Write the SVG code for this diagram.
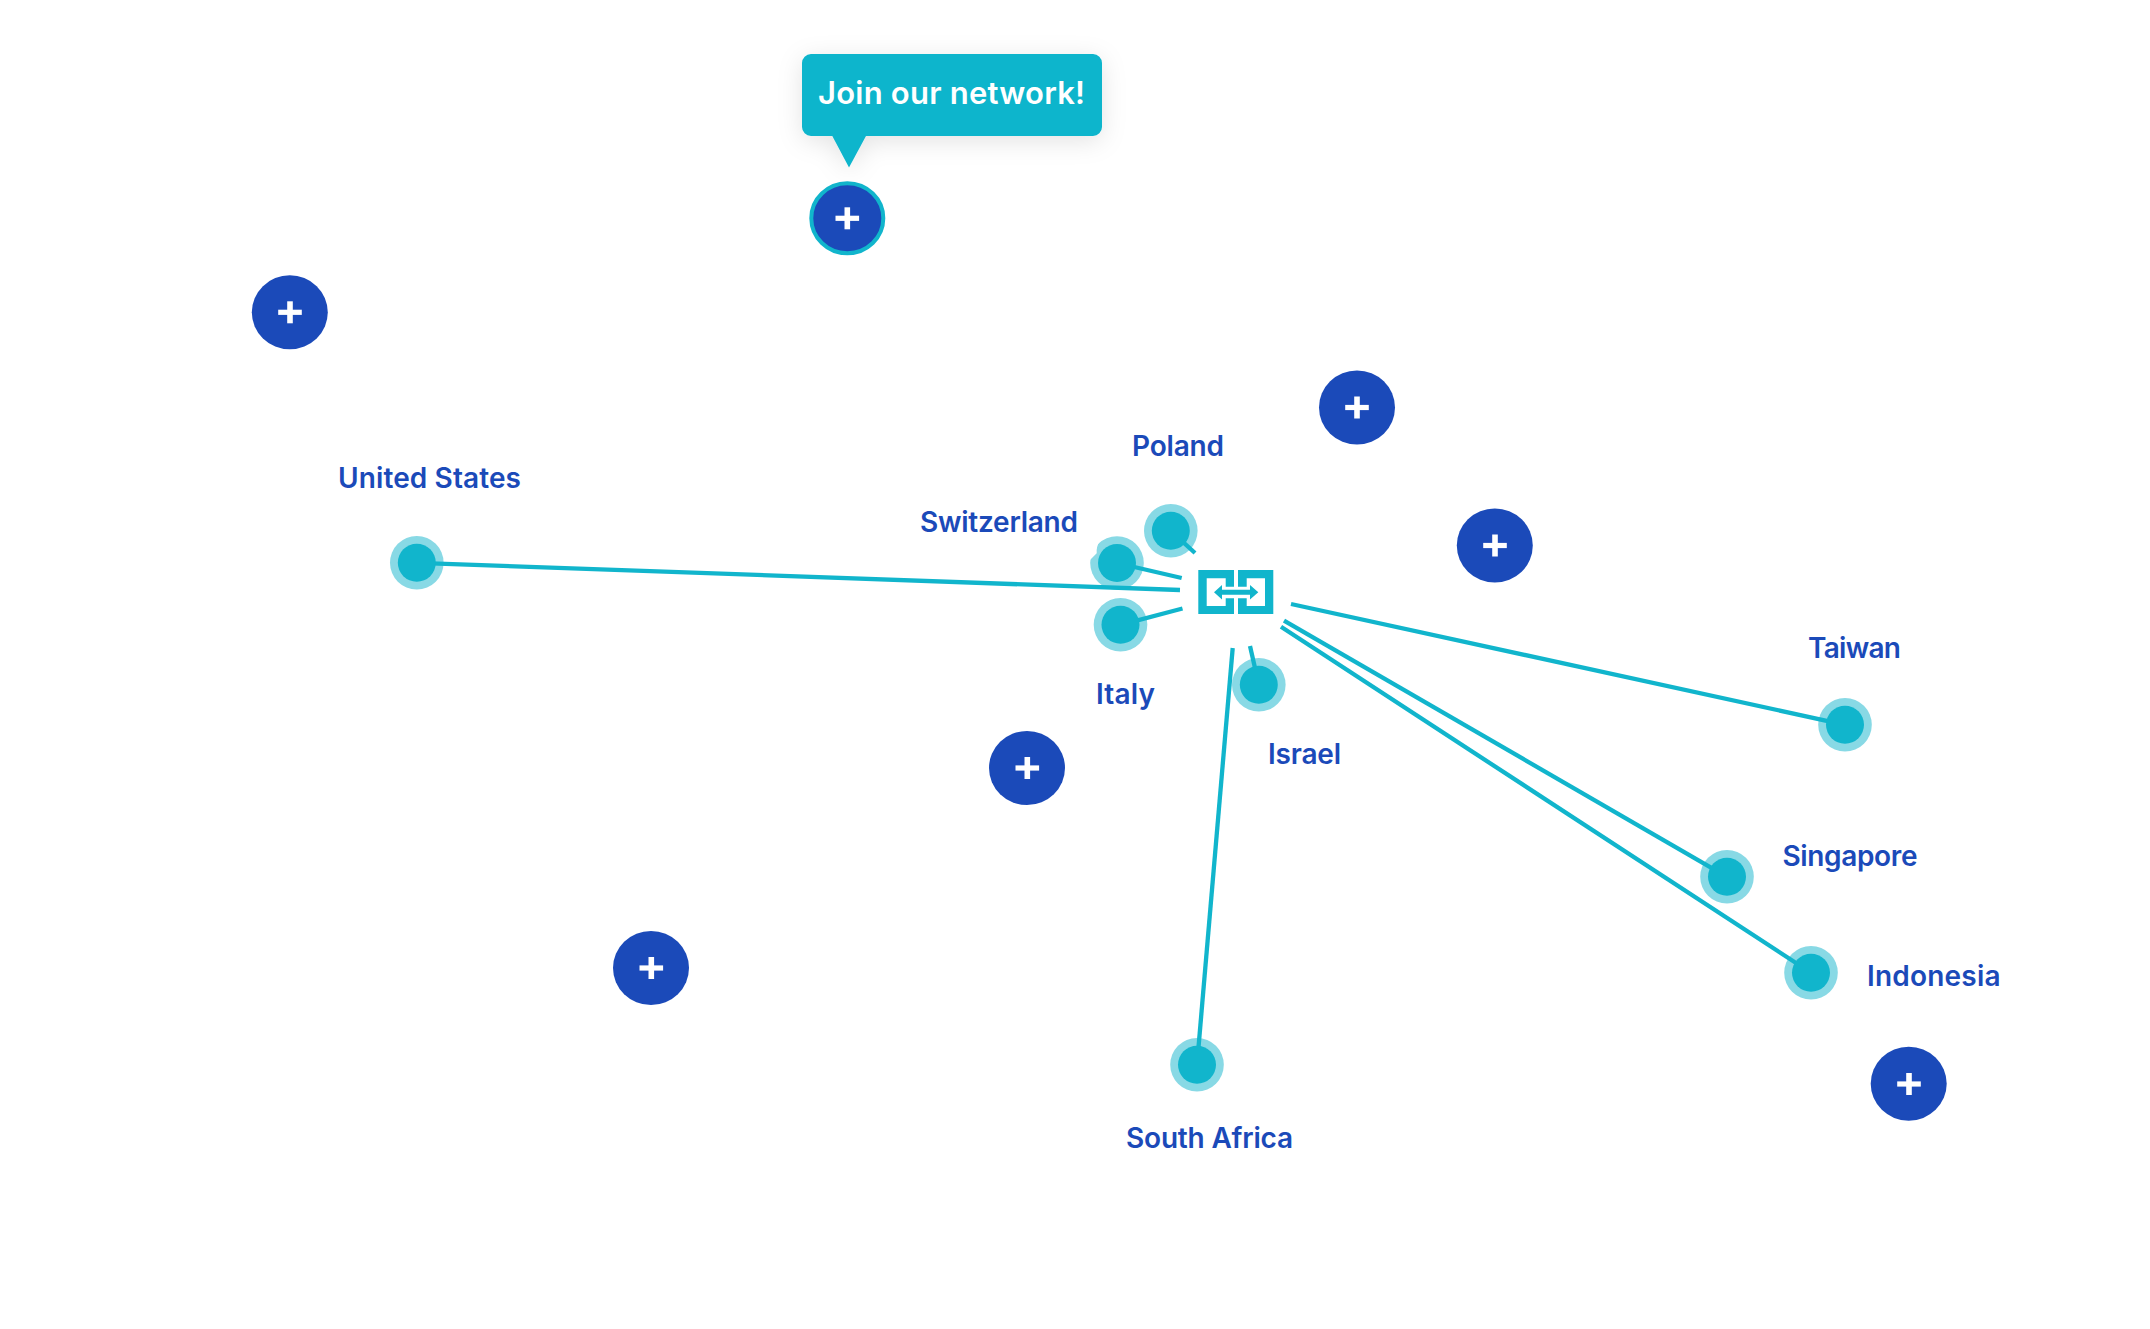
<svg xmlns="http://www.w3.org/2000/svg" width="2150" height="1329" viewBox="0 0 2150 1329">
<defs>
<filter id="sh" x="-20%" y="-60%" width="140%" height="240%"><feDropShadow dx="0" dy="5" stdDeviation="12" flood-color="#000" flood-opacity="0.11"/></filter>
<g id="plus"><rect x="-11.8" y="-2.6" width="23.6" height="5.2" fill="#fff"/><rect x="-2.8" y="-11" width="5.6" height="22" fill="#fff"/></g>
</defs>
<style>
text{font-family:"Inter","Liberation Sans",sans-serif}
.lbl{font-size:28px;font-weight:600;fill:#1b4ab9}
.halo{fill:#88d9e5}
.dot{fill:#11b5cc}
.btn{fill:#1b4ab9}
.ln{stroke:#11b5cc;stroke-width:4.300;fill:none}
</style>
<rect width="2150" height="1329" fill="#fff"/>
<g id="halos">
<circle class="halo" cx="416.800" cy="562.800" r="26.800"/>
<circle class="halo" cx="1170.800" cy="530.800" r="26.800"/>
<circle class="halo" cx="1117" cy="563" r="26.800"/>
<circle class="halo" cx="1120.500" cy="624.800" r="26.800"/>
<circle class="halo" cx="1258.800" cy="684.800" r="26.800"/>
<circle class="halo" cx="1845" cy="724.800" r="26.800"/>
<circle class="halo" cx="1727" cy="876.800" r="26.800"/>
<circle class="halo" cx="1811" cy="972.800" r="26.800"/>
<circle class="halo" cx="1197" cy="1064.800" r="26.800"/>
<path fill="#fff" d="M1100 540.500Q1096 547 1096.700 553.300L1089.500 560.500L1084 550L1093 538Z"/>
</g>
<g id="connectors">
<path class="ln" d="M416.800 562.800L1180 590"/>
<path class="ln" d="M1170.800 530.800L1195 553"/>
<path class="ln" d="M1117 563L1181.700 578"/>
<path class="ln" d="M1120.500 624.800L1182.500 608.500"/>
<path class="ln" d="M1250 646L1258.800 684.800"/>
<path class="ln" d="M1232.700 648L1197 1064.800"/>
<path class="ln" d="M1291 604L1845 724.800"/>
<path class="ln" d="M1284 620.700L1727 876.800"/>
<path class="ln" d="M1281 626.700L1811 972.800"/>
</g>
<g id="node-us"><circle class="dot" cx="416.800" cy="562.800" r="19"/><text class="lbl" x="338" y="488" textLength="183">United States</text></g>
<g id="node-poland"><circle class="dot" cx="1170.800" cy="530.800" r="19"/><text class="lbl" x="1132" y="456" textLength="92">Poland</text></g>
<g id="node-switzerland"><circle class="dot" cx="1117" cy="563" r="19"/><text class="lbl" x="920" y="532" textLength="158">Switzerland</text></g>
<g id="node-italy"><circle class="dot" cx="1120.500" cy="624.800" r="19"/><text class="lbl" x="1096" y="704" textLength="59">Italy</text></g>
<g id="node-israel"><circle class="dot" cx="1258.800" cy="684.800" r="19"/><text class="lbl" x="1268" y="764" textLength="73">Israel</text></g>
<g id="node-taiwan"><circle class="dot" cx="1845" cy="724.800" r="19"/><text class="lbl" x="1808" y="658" textLength="93">Taiwan</text></g>
<g id="node-singapore"><circle class="dot" cx="1727" cy="876.800" r="19"/><text class="lbl" x="1782.500" y="866" textLength="135">Singapore</text></g>
<g id="node-indonesia"><circle class="dot" cx="1811" cy="972.800" r="19"/><text class="lbl" x="1867" y="986" textLength="133.500">Indonesia</text></g>
<g id="node-southafrica"><circle class="dot" cx="1197" cy="1064.800" r="19"/><text class="lbl" x="1126" y="1148" textLength="167">South Africa</text></g>
<g id="hub"><path fill="#11b5cc" d="M1198.300 570H1234V586.700H1225.700V578.300H1206.700V606H1225.700V598.300H1234V614H1198.300ZM1238 570H1273.300V614H1238V598.300H1246.700V606H1265V578.300H1246.700V586.700H1238Z"/><path fill="#11b5cc" d="M1214 592.200L1222 585V589.700H1250V585L1258.300 592.200L1250 599.400V594.700H1222V599.400Z"/></g>
<g id="btn-1"><ellipse class="btn" cx="289.800" cy="312.300" rx="38" ry="37"/><use href="#plus" x="290" y="312.300"/></g>
<g id="btn-2"><ellipse class="btn" cx="1357" cy="407.500" rx="38" ry="37"/><use href="#plus" x="1357" y="407.500"/></g>
<g id="btn-3"><ellipse class="btn" cx="1494.800" cy="545.500" rx="38" ry="37"/><use href="#plus" x="1495" y="545.500"/></g>
<g id="btn-4"><ellipse class="btn" cx="1027" cy="768" rx="38" ry="37"/><use href="#plus" x="1027.300" y="768"/></g>
<g id="btn-5"><ellipse class="btn" cx="651" cy="968" rx="38" ry="37"/><use href="#plus" x="651.300" y="968"/></g>
<g id="btn-6"><ellipse class="btn" cx="1908.700" cy="1083.700" rx="38" ry="37"/><use href="#plus" x="1909" y="1084"/></g>
<g id="btn-join"><ellipse class="btn" cx="847.300" cy="218.300" rx="36" ry="35" stroke="#11b5cc" stroke-width="4"/><use href="#plus" x="847.300" y="218.300"/></g>
<g id="tooltip"><path filter="url(#sh)" fill="#11b5cc" d="M811 54H1093A9 9 0 0 1 1102 63V127A9 9 0 0 1 1093 136H866L849 167.500L832.300 136H811A9 9 0 0 1 802 127V63A9 9 0 0 1 811 54Z"/><text x="818" y="104" font-size="31" font-weight="600" fill="#fff" textLength="267">Join our network!</text></g>
</svg>
